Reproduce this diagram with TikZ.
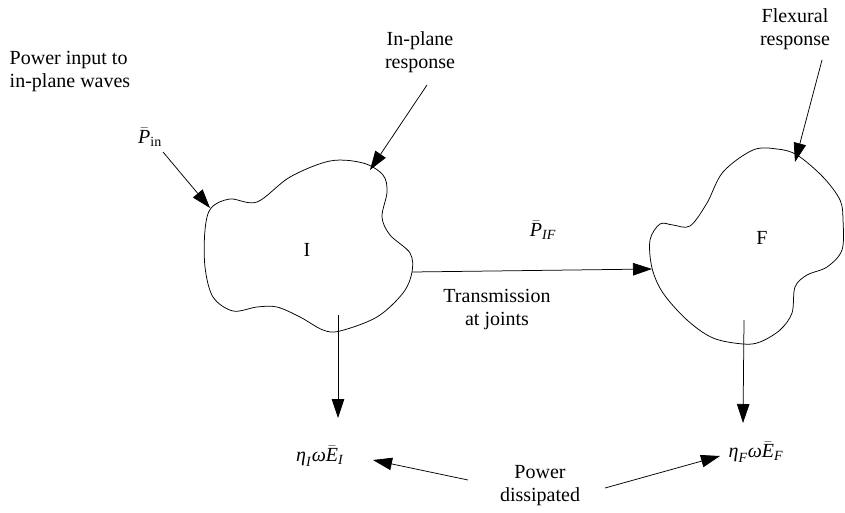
\documentclass[tikz,border=0pt]{standalone}
\usepackage{amsmath}
\usepackage{fontspec}
\setmainfont{Liberation Serif}
\usetikzlibrary{arrows.meta}
\newcommand{\ti}[1]{\text{\textit{#1}}}
\begin{document}
\begin{tikzpicture}[x=1pt,y=-1pt,
  lbl/.style={font=\fontsize{20}{23}\selectfont, inner sep=0pt, align=center},
  blob/.style={draw, line width=0.75pt},
  flow/.style={draw, line width=0.75pt, -{Triangle[length=19pt,width=12.5pt]}}]
\useasboundingbox (0,0) rectangle (845,513);

% subsystem I (in-plane)
\draw[blob] plot[smooth cycle, tension=0.55] coordinates {
  (211,208) (230,199) (257,202) (290,177) (330,161) (363,163) (383,175)
  (387,192) (382,217) (390,235) (410,253) (412,272) (403,293) (377,317)
  (340,331) (323,330) (300,317) (277,307) (257,307) (233,311) (213,297)
  (205,267) (205,230)};
% subsystem F (flexural)
\draw[blob] plot[smooth cycle, tension=0.55] coordinates {
  (652,268) (650,240) (660,224) (673,225) (690,226) (707,203) (723,172)
  (753,150) (777,149) (797,155) (823,177) (840,200) (843,220) (842,250)
  (827,267) (807,275) (795,287) (792,313) (780,330) (760,342) (743,344)
  (713,338) (687,320) (663,293)};

% points on and near the subsystems
\coordinate (Iin)   at (210,208);
\coordinate (Iresp) at (370,170);
\coordinate (Iout)  at (412,272);
\coordinate (Idis)  at (338,315);
\coordinate (Ibot)  at (338,418);
\coordinate (Fin)   at (652,269);
\coordinate (Fresp) at (795,162);
\coordinate (Fdis)  at (744,320);
\coordinate (Fbot)  at (743,423);
\coordinate (pinS)  at (163,152);
\coordinate (ipS)   at (427,85);
\coordinate (flS)   at (822,60);
\coordinate (dL)    at (468,480);
\coordinate (dR)    at (605,488);
\coordinate (etaIt) at (373,460);
\coordinate (etaFt) at (720,456);

% labels
\node[lbl, align=left] (pintxt) at (70,72) {Power input to\\in-plane waves};
\node[lbl] (pbarin) at (150,137) {$\bar{\ti{P}}_{\text{in}}$};
\node[lbl] (iptxt) at (420,52) {In-plane\\response};
\node[lbl] (fltxt) at (795,29) {Flexural\\response};
\node[lbl] (Ilab) at (307,250) {I};
\node[lbl] (Flab) at (762,238) {F};
\node[lbl] (pif) at (543,230) {$\bar{\ti{P}}_{\ti{IF}}$};
\node[lbl] (trans) at (497,310) {Transmission\\at joints};
\node[lbl] (etaI) at (320,456) {$\ti{η}_{\ti{I}}\ti{ω}\bar{\ti{E}}_{\ti{I}}$};
\node[lbl] (etaF) at (756,452) {$\ti{η}_{\ti{F}}\ti{ω}\bar{\ti{E}}_{\ti{F}}$};
\node[lbl] (pdis) at (540,486) {Power\\dissipated};

% connectors
\draw[flow] (pinS) -- (Iin);
\draw[flow] (ipS) -- (Iresp);
\draw[flow] (flS) -- (Fresp);
\draw[flow] (Iout) -- (Fin);
\draw[flow] (Idis) -- (Ibot);
\draw[flow] (Fdis) -- (Fbot);
\draw[flow] (dL) -- (etaIt);
\draw[flow] (dR) -- (etaFt);
\end{tikzpicture}
\end{document}
